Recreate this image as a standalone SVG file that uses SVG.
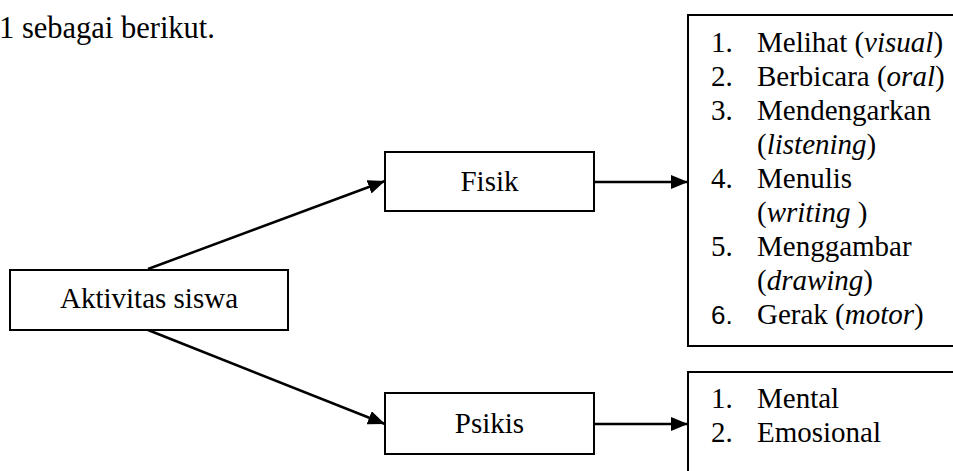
<svg xmlns="http://www.w3.org/2000/svg" width="953" height="471" viewBox="0 0 953 471">
<style>
text{font-family:'Liberation Serif','Times New Roman',Times,serif;font-size:29px;fill:#000}
.box{fill:#fff;stroke:#000;stroke-width:2}
.c{text-anchor:middle}
.conn line{stroke:#000;stroke-width:2.5;fill:none}
.i{font-style:italic}
text.sans{font-family:'Liberation Sans',Arial,sans-serif;font-size:26px}
text.top{font-size:30.5px}
</style>
<defs>
<marker id="arr" viewBox="0 0 17 14" refX="17" refY="7" markerWidth="17" markerHeight="14" markerUnits="userSpaceOnUse" orient="auto">
<path d="M0,0 L17,7 L0,14 z" fill="#000"/>
</marker>
</defs>
<rect width="953" height="471" fill="#fff"/>
<text class="top" x="-1" y="38">1 sebagai berikut.</text>

<g class="conn">
<line x1="148" y1="269" x2="385" y2="181" marker-end="url(#arr)"/>
<line x1="148" y1="330" x2="385" y2="424" marker-end="url(#arr)"/>
<line x1="594" y1="182" x2="688" y2="182" marker-end="url(#arr)"/>
<line x1="594" y1="424" x2="688" y2="424" marker-end="url(#arr)"/>
</g>

<g id="aktivitas">
<rect class="box" x="10" y="270" width="278" height="60"/>
<text class="c" x="149" y="308">Aktivitas siswa</text>
</g>
<g id="fisik">
<rect class="box" x="385" y="152" width="209" height="59"/>
<text class="c" x="489.5" y="191">Fisik</text>
</g>
<g id="psikis">
<rect class="box" x="385" y="393" width="209" height="61"/>
<text class="c" x="489.5" y="433">Psikis</text>
</g>
<g id="fisik-list">
<rect class="box" x="688" y="15" width="280" height="331"/>
<text x="711" y="52">1.</text><text x="757" y="52">Melihat (<tspan class="i">visual</tspan>)</text>
<text x="711" y="86">2.</text><text x="757" y="86">Berbicara (<tspan class="i">oral</tspan>)</text>
<text x="711" y="120">3.</text><text x="757" y="120">Mendengarkan</text>
<text x="757" y="154">(<tspan class="i">listening</tspan>)</text>
<text x="711" y="188">4.</text><text x="757" y="188">Menulis</text>
<text x="757" y="222">(<tspan class="i">writing </tspan>)</text>
<text x="711" y="256">5.</text><text x="757" y="256">Menggambar</text>
<text x="757" y="290">(<tspan class="i">drawing</tspan>)</text>
<text class="sans" x="711" y="324">6.</text><text x="757" y="324">Gerak (<tspan class="i">motor</tspan>)</text>
</g>
<g id="psikis-list">
<rect class="box" x="688" y="372" width="280" height="120"/>
<text x="711" y="408">1.</text><text x="757" y="408">Mental</text>
<text x="711" y="442">2.</text><text x="757" y="442">Emosional</text>
</g>
</svg>
